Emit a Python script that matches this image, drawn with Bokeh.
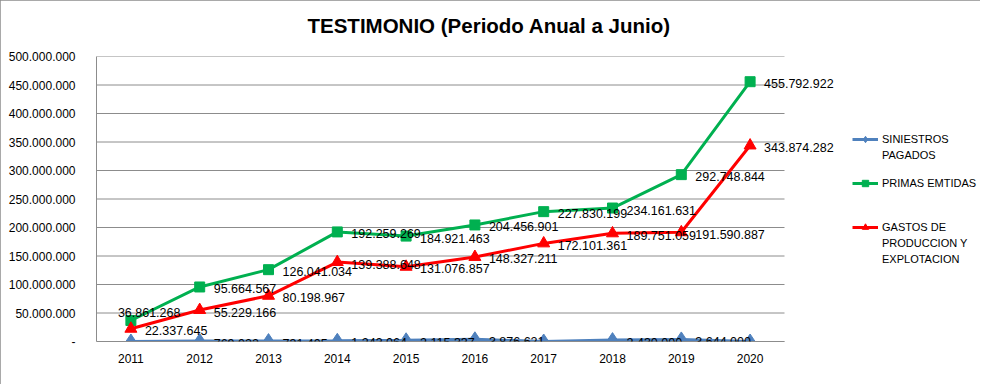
from bokeh.plotting import figure
from bokeh.models import ColumnDataSource, LabelSet, Legend, LegendItem, FixedTicker, Range1d, Title
from bokeh.core.properties import value
from bokeh.embed import file_html
from bokeh.resources import INLINE

title_text = "TESTIMONIO (Periodo Anual a Junio)"
years = ["2011", "2012", "2013", "2014", "2015", "2016", "2017", "2018", "2019", "2020"]
siniestros = [0, 769022, 731405, 1243064, 2115337, 3876621, 0, 2430000, 3644000, 0]
primas = [36861268, 95664567, 126041034, 192259269, 184921463, 204456901, 227830199, 234161631, 292748844, 455792922]
gastos = [22337645, 55229166, 80198967, 139388648, 131076857, 148327211, 172101361, 189751059, 191590887, 343874282]
# legend names, one entry per line of text
series_names = [["SINIESTROS", "PAGADOS"], ["PRIMAS EMTIDAS"], ["GASTOS DE", "PRODUCCION Y", "EXPLOTACION"]]
y_ticks = [0, 50000000, 100000000, 150000000, 200000000, 250000000, 300000000, 350000000, 400000000, 450000000, 500000000]
y_tick_labels = ["-", "50.000.000", "100.000.000", "150.000.000", "200.000.000", "250.000.000",
                 "300.000.000", "350.000.000", "400.000.000", "450.000.000", "500.000.000"]


def fmt(v):
    return "-" if v == 0 else f"{v:,}".replace(",", ".")


FONT = "Liberation Sans"
GRID = "#8c8c8c"
W, H = 980, 384
LEFT, TOP, RIGHT, BOTTOM = 96, 56, 2, 43
FRAME_W = W - LEFT - RIGHT
CAT_W = 68.8  # pixels per category in the reference's plot area

xs = list(range(len(years)))
n = len(years)
x_end = -0.5 + FRAME_W / CAT_W

p = figure(width=W, height=H, x_range=Range1d(-0.5, x_end), y_range=Range1d(0, 500000000),
           output_backend="svg", toolbar_location=None,
           min_border_left=LEFT, min_border_right=RIGHT, min_border_top=TOP, min_border_bottom=BOTTOM)
p.styles = {"outline": "1px solid #8c8c8c", "outline-offset": "-1px"}

# spacer panel between the title and the plot area
p.add_layout(Title(text=" ", text_font_size="1px", standoff=17), "above")

p.title.text = title_text
p.title.align = "left"
p.title.vertical_align = "bottom"
p.title.text_font = FONT
p.title.text_font_size = "20.5px"
p.title.text_font_style = "bold"
p.title.text_color = "#000000"
p.title.offset = 211
p.title.standoff = 0

p.outline_line_color = None
p.xgrid.grid_line_color = None
p.ygrid.grid_line_color = None

# horizontal gridlines limited to the category area
p.segment(x0=[-0.5] * len(y_ticks), x1=[n - 0.5] * len(y_ticks), y0=y_ticks, y1=y_ticks,
          line_color=GRID, line_width=1)

p.yaxis.ticker = FixedTicker(ticks=y_ticks)
p.yaxis.major_label_overrides = {t: l for t, l in zip(y_ticks, y_tick_labels)}
p.xaxis.ticker = FixedTicker(ticks=xs)
p.xaxis.major_label_overrides = {i: y for i, y in zip(xs, years)}
p.xaxis.bounds = (-0.5, n - 0.5)
for ax in (p.xaxis, p.yaxis):
    ax.axis_line_color = GRID
    ax.major_tick_line_color = None
    ax.minor_tick_line_color = None
    ax.major_label_text_font = FONT
    ax.major_label_text_font_size = "12px"
    ax.major_label_text_color = "#000000"
p.yaxis.major_label_standoff = 15
p.xaxis.major_label_standoff = 6

colors = ["#4F81BD", "#00B050", "#FF0000"]
markers = ["diamond", "square", "triangle"]
sizes = [15, 10, 12]
series = [siniestros, primas, gastos]

# an invisible renderer used for the continuation lines of multi-line legend entries
blank = p.line(x=[], y=[], line_alpha=0)

legend_bottoms = [178, 150, 74]  # screen px above the plot area's bottom
for names, vals, c, m, s, lb in zip(series_names, series, colors, markers, sizes, legend_bottoms):
    src = ColumnDataSource(dict(x=xs, y=vals))
    ln = p.line("x", "y", source=src, line_color=c, line_width=3)
    sc = p.scatter("x", "y", source=src, marker=m, size=s, fill_color=c, line_color=c)
    its = [LegendItem(label=names[0], renderers=[ln, sc])]
    its += [LegendItem(label=nm, renderers=[blank]) for nm in names[1:]]
    lg = Legend(items=its, location=(756, lb), glyph_width=26, glyph_height=16,
                label_standoff=4, label_text_font=FONT, label_text_font_size="11px",
                label_text_color="#000000", label_height=16, spacing=0, padding=0, margin=0,
                border_line_color=None, background_fill_alpha=0, click_policy="none")
    p.add_layout(lg, "center")

# data labels
for idx, vals in enumerate(series):
    xo = [14] * n
    yo = [-2] * n
    if idx == 1:
        xo[0] = -13
        yo[0] = 8
    src = ColumnDataSource(dict(x=xs, y=vals, t=[fmt(v) for v in vals], xo=xo, yo=yo))
    ls = LabelSet(x="x", y="y", text="t", source=src, x_offset="xo", y_offset="yo",
                  text_font=value(FONT), text_font_size=value("12.5px"), text_color="#000000",
                  text_baseline="middle", text_align="left")
    p.add_layout(ls)

open("out.html", "w").write(file_html(p, INLINE))
